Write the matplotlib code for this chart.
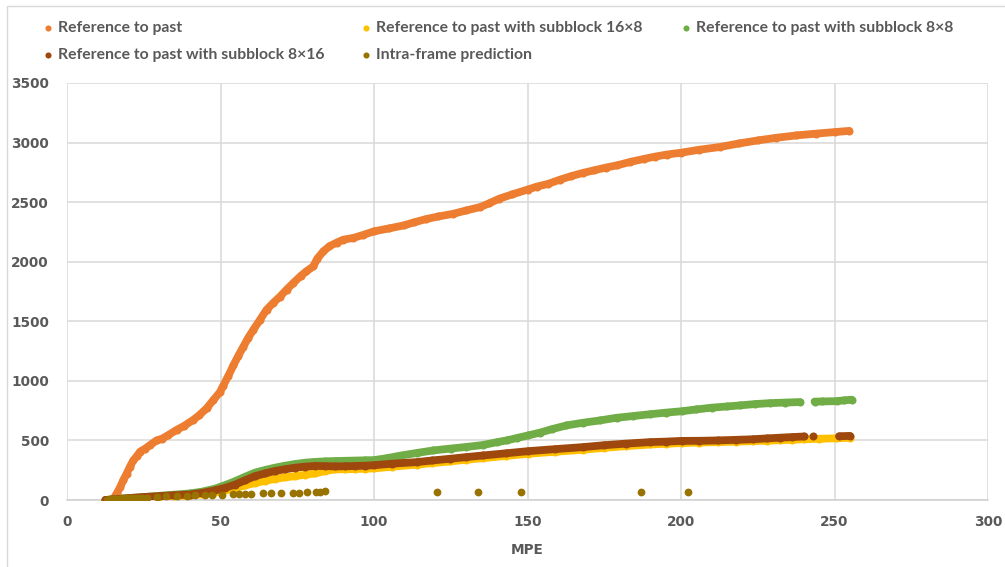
import matplotlib
matplotlib.use("Agg")
import matplotlib.pyplot as plt
from matplotlib.lines import Line2D
from matplotlib.patches import Rectangle
import numpy as np

# MPE vs cumulative count for each prediction mode
past_x = [13.5, 15.1, 16.2, 17.3, 18.3, 19.4, 20.5, 21.6, 22.8, 23.8, 25.4, 27, 29.2, 31, 33,
          35.7, 38, 41.1, 43, 45.5, 47.7, 49.8, 50.9, 52.5, 54.2, 55.8, 57.4, 59, 60.7, 62.8,
          65, 67.2, 69.4, 71.5, 73.7, 76.2, 78, 80.2, 81.5, 83.5, 85.5, 87.8, 90, 93.3, 96.5,
          100, 105, 109.7, 113, 117, 121, 125.8, 130, 134.5, 137.5, 140.7, 145, 150, 153,
          156.8, 160.5, 164.3, 168, 171.7, 175.5, 179.2, 183.5, 187.8, 191.5, 195.3, 200,
          206, 212.7, 219, 225, 231, 237.5, 244, 250, 254.8]
past_y = [0, 10, 55, 107, 165, 220, 280, 332, 370, 406, 430, 460, 500, 515, 545,
          588, 620, 672, 710, 770, 840, 905, 960, 1040, 1130, 1210, 1285, 1360, 1429, 1510,
          1597, 1655, 1708, 1765, 1821, 1882, 1920, 1960, 2025, 2087, 2130, 2160, 2185, 2200, 2225,
          2255, 2280, 2305, 2330, 2358, 2380, 2402, 2430, 2458, 2490, 2528, 2565, 2605, 2630,
          2654, 2688, 2719, 2745, 2767, 2790, 2809, 2838, 2862, 2882, 2899, 2915,
          2940, 2963, 2993, 3018, 3040, 3060, 3075, 3088, 3098]

sub16x8_x = [12.5, 15, 20, 25, 30, 35, 40, 44, 48.2, 51.5, 54.7, 58, 61.2, 64.5, 67.7, 71,
             74.3, 77.5, 80.8, 84, 87.3, 90.5, 93.8, 97, 100, 106, 113.9, 119, 124.8, 130,
             135.6, 143, 150.2, 159, 168.1, 175, 182, 190, 195, 200.2, 206, 212, 218, 223.4,
             228, 232.2, 236, 240, 245, 250.7, 255]
sub16x8_y = [0, 3, 10, 18, 25, 32, 38, 48, 63, 80, 100, 122, 143, 160, 177, 190,
             200, 212, 223, 243, 257, 258, 260, 263, 265, 280, 297, 310, 324, 338,
             352, 370, 388, 405, 422, 438, 452, 466, 472, 478, 482, 486, 490, 494,
             498, 502, 506, 510, 514, 518, 522]

sub8x8_x = [12.5, 15, 18, 21, 25, 30, 35, 40, 44, 48.2, 51.5, 54.7, 58, 61.2, 64.5, 67.7,
            71, 74.3, 77.5, 80.8, 84, 87.3, 90.5, 93.8, 97, 100, 104, 108.5, 114, 119.3,
            125, 130, 135.6, 140, 143.2, 146.5, 150.2, 154, 158, 162.7, 168, 173.6, 179,
            184.5, 190, 195, 200.2, 205, 210, 215, 219.2, 224, 229, 234, 238.8,
            np.nan, 243.5, 246, 250.7, 253, 255.6]
sub8x8_y = [0, 5, 12, 18, 25, 35, 45, 55, 70, 95, 125, 157, 195, 229, 252, 271,
            288, 302, 313, 320, 324, 327, 329, 331, 333, 335, 350, 372, 395, 416,
            432, 445, 462, 485, 500, 520, 542, 565, 595, 626, 648, 668, 690,
            705, 720, 733, 745, 760, 775, 785, 794, 805, 813, 818, 822,
            np.nan, 826, 827, 830, 836, 842]

sub8x16_x = [12.5, 15, 20, 25, 30, 35, 40, 44, 48.2, 51.5, 54.7, 58, 61.2, 64.5, 67.7, 71,
             74.3, 77.5, 80.8, 84, 87.3, 90.5, 93.8, 97, 100, 106, 113.9, 119, 124.8, 130,
             135.6, 143, 150.2, 159, 168.1, 175, 182, 190, 195, 200.2, 206, 212, 218,
             223.4, 228, 232.2, 236, 240, np.nan, 242.9, np.nan, 251.5, 255]
sub8x16_y = [0, 5, 15, 25, 32, 40, 46, 60, 80, 102, 129, 165, 200, 223, 243, 258,
             271, 280, 286, 284, 282, 283, 285, 288, 292, 305, 318, 332, 346, 360,
             374, 392, 410, 427, 444, 460, 473, 486, 490, 496, 497, 500, 505,
             510, 517, 523, 528, 533, np.nan, 533, np.nan, 535, 538]

intra_x = [13, 14, 15, 16, 17, 18, 19, 20, 21, 22, 23, 24.5, 26, 29.2, 32.4, 35.7, 39, 41.7,
           45, 47.1, 50.4, 54, 56, 58, 60, 63.7, 66.4, 69.7, 73.5, 75.6, 78.3, 81, 82.5, 84,
           120.5, 134, 148, 187, 202.3]
intra_y = [2, 5, 8, 10, 12, 14, 15, 16, 17, 18, 19, 20, 20, 29, 30, 33, 36, 42,
           44, 44, 46, 50, 50, 51, 51, 55, 58, 60, 61, 62, 66, 66, 70, 72,
           70, 70, 70, 70, 70]

labels = ["Reference to past",
          "Reference to past with subblock 16×8",
          "Reference to past with subblock 8×8",
          "Reference to past with subblock 8×16",
          "Intra-frame prediction"]
colors = ["#ED7D31", "#FFC000", "#70AD47", "#9E480E", "#997300"]

W, H = 1005, 567
fig = plt.figure(figsize=(W / 100, H / 100), dpi=100)
ax = fig.add_axes([67 / W, 1 - 500 / H, (988 - 67) / W, (500 - 83) / H])

series = [(past_x, past_y), (sub16x8_x, sub16x8_y), (sub8x8_x, sub8x8_y),
          (sub8x16_x, sub8x16_y)]
for (xs, ys), c in zip(series, colors[:4]):
    ax.plot(xs, ys, color=c, lw=5.6, marker="o", ms=5.8, mew=0,
            solid_capstyle="round", solid_joinstyle="round", zorder=3)
ax.plot(intra_x, intra_y, ls="none", color=colors[4], marker="o", ms=5.6, mew=0, zorder=4)

ax.set_xlim(0, 300)
ax.set_ylim(0, 3500)
ax.set_xticks(np.arange(0, 301, 50))
ax.set_yticks(np.arange(0, 3501, 500))
ax.grid(True, color="#D9D9D9", lw=1.1)
ax.set_axisbelow(True)
for s in ["top", "right", "left"]:
    ax.spines[s].set_visible(False)
ax.spines["bottom"].set_color("#D0D0D0")
ax.spines["bottom"].set_linewidth(1.1)
ax.tick_params(length=0, colors="#595959", labelsize=9.8)
ax.tick_params(axis="y", pad=13)
ax.tick_params(axis="x", pad=11)
for lab in ax.get_xticklabels() + ax.get_yticklabels():
    lab.set_fontweight("bold")
ax.set_xlabel("MPE", color="#595959", fontsize=9.8, fontweight="bold", labelpad=10)

# legend drawn by hand: two rows, three fixed columns
leg_pos = [(48, 28), (366, 28), (686, 28), (48, 55), (366, 55)]
for (px, py), lab, c in zip(leg_pos, labels, colors):
    fig.add_artist(Line2D([px / W], [1 - py / H], marker="o", ms=4.4, mew=0,
                          color=c, ls="none", transform=fig.transFigure))
    fig.text((px + 10) / W, 1 - py / H, lab, fontsize=11.3, fontweight="bold",
             family="Lato", color="#595959", va="center", ha="left")

# outer chart frame
fig.add_artist(Rectangle((7 / W, -0.05), 1.05, 1 - 6 / H + 0.05, transform=fig.transFigure,
                         fill=False, ec="#D9D9D9", lw=1.0))

fig.savefig("out.png", dpi=100)
